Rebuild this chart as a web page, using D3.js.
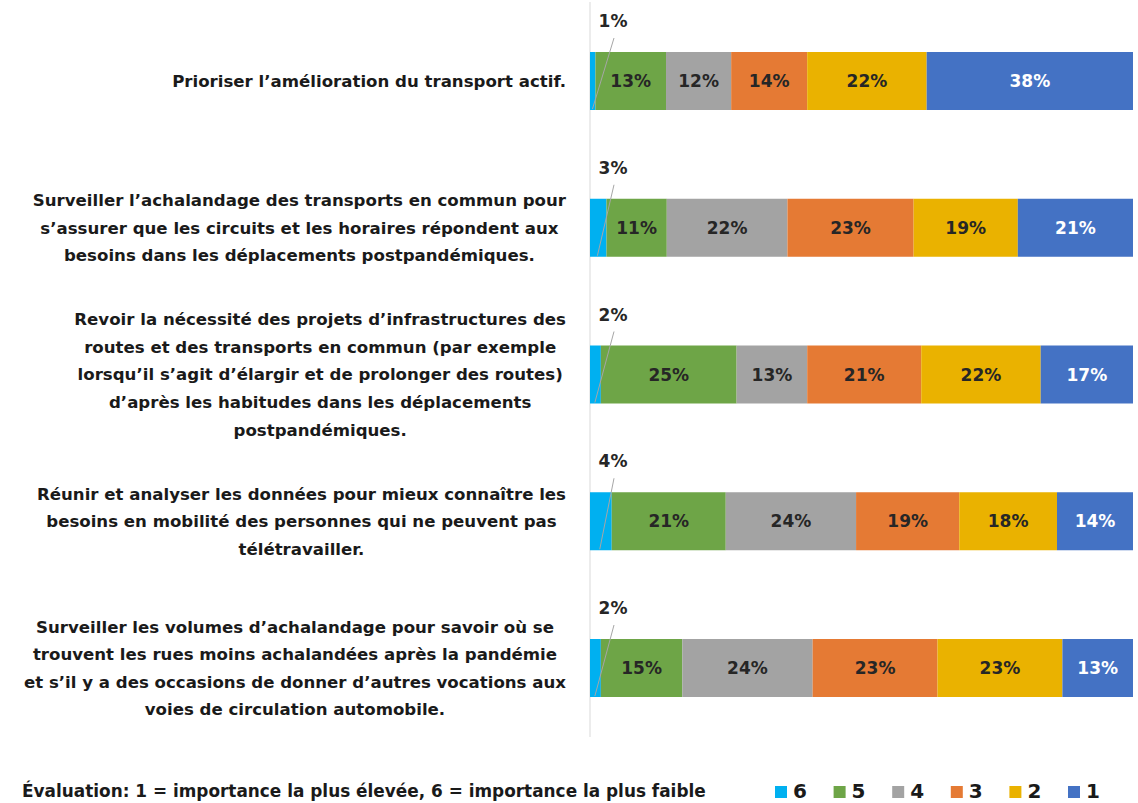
<!DOCTYPE html>
<html>
<head>
<meta charset="utf-8">
<script src="https://cdn.jsdelivr.net/npm/d3@7"></script>
<style>
  body { margin: 0; background: #fff; }
  svg text { font-family: "DejaVu Sans", sans-serif; font-weight: bold; }
</style>
</head>
<body>
<svg id="chart" width="1138" height="803"></svg>
<script>
// categories (each entry is a wrapped label, one string per line)
var categories = [
    ["Prioriser l\u2019amélioration du transport actif."],
    ["Surveiller l\u2019achalandage des transports en commun pour",
     "s\u2019assurer que les circuits et les horaires répondent aux",
     "besoins dans les déplacements postpandémiques."],
    ["Revoir la nécessité des projets d\u2019infrastructures des",
     "routes et des transports en commun (par exemple",
     "lorsqu\u2019il s\u2019agit d\u2019élargir et de prolonger des routes)",
     "d\u2019après les habitudes dans les déplacements",
     "postpandémiques."],
    ["Réunir et analyser les données pour mieux connaître les",
     "besoins en mobilité des personnes qui ne peuvent pas",
     "télétravailler."],
    ["Surveiller les volumes d\u2019achalandage pour savoir où se",
     "trouvent les rues moins achalandées après la pandémie",
     "et s\u2019il y a des occasions de donner d\u2019autres vocations aux",
     "voies de circulation automobile."]
];

// series: ranks 6 .. 1, in stacking order (left to right)
var ranks = ["6", "5", "4", "3", "2", "1"];
var rank6 = [1, 3, 2, 4, 2];
var rank5 = [13, 11, 25, 21, 15];
var rank4 = [12, 22, 13, 24, 24];
var rank3 = [14, 23, 21, 19, 23];
var rank2 = [22, 19, 22, 18, 23];
var rank1 = [38, 21, 17, 14, 13];

var colors = ["#00b0f0", "#6ea547", "#a3a3a3", "#e57a34", "#eab200", "#4472c4"];
var footnote = "Évaluation: 1 = importance la plus élevée, 6 = importance la plus faible";

var series = [rank6, rank5, rank4, rank3, rank2, rank1];
var rows = categories.map(function (c, i) {
    var r = { idx: i };
    ranks.forEach(function (k, j) { r[k] = series[j][i]; });
    return r;
});

var svg = d3.select("#chart");

var x = d3.scaleLinear().domain([0, 1]).range([590, 1133]);
var y = d3.scalePoint().domain(d3.range(categories.length)).range([81, 668]);
var barH = 58;

var stacked = d3.stack().keys(ranks).offset(d3.stackOffsetExpand)(rows);

// vertical axis line
svg.append("line")
    .attr("x1", x(0)).attr("x2", x(0))
    .attr("y1", 2).attr("y2", 737)
    .attr("stroke", "#d9d9d9").attr("stroke-width", 1);

var layer = svg.selectAll("g.layer")
    .data(stacked)
    .enter().append("g")
    .attr("class", "layer")
    .attr("fill", function (d, i) { return colors[i]; });

layer.selectAll("rect")
    .data(function (d) { return d; })
    .enter().append("rect")
    .attr("x", function (d) { return x(d[0]); })
    .attr("y", function (d) { return y(d.data.idx) - barH / 2; })
    .attr("width", function (d) { return x(d[1]) - x(d[0]); })
    .attr("height", barH);

// labels inside segments (all but rank 6)
stacked.forEach(function (s, j) {
    if (j === 0) return;
    svg.append("g").selectAll("text")
        .data(s)
        .enter().append("text")
        .attr("x", function (d) { return (x(d[0]) + x(d[1])) / 2; })
        .attr("y", function (d) { return y(d.data.idx); })
        .attr("dy", "0.36em")
        .attr("text-anchor", "middle")
        .attr("font-size", 17)
        .attr("fill", j === 5 ? "#fff" : "#262626")
        .text(function (d) { return d.data[s.key] + "%"; });
});

// rank 6 labels above the bar with leader line
var s6 = stacked[0];
svg.append("g").selectAll("line")
    .data(s6)
    .enter().append("line")
    .attr("x1", x(0) + 24)
    .attr("y1", function (d) { return y(d.data.idx) - 43; })
    .attr("x2", function (d) { return x(d[0]) + (x(d[1]) - x(d[0])) * 0.45; })
    .attr("y2", function (d) { return y(d.data.idx) + barH / 2 - 1; })
    .attr("stroke", "#a6a6a6").attr("stroke-width", 1);

svg.append("g").selectAll("text")
    .data(s6)
    .enter().append("text")
    .attr("x", x(0) + 23)
    .attr("y", function (d) { return y(d.data.idx) - 60; })
    .attr("dy", "0.36em")
    .attr("text-anchor", "middle")
    .attr("font-size", 17)
    .attr("fill", "#262626")
    .text(function (d) { return d.data["6"] + "%"; });

// category labels: block right-aligned, lines centered inside block
var lineH = 27.6;
var labelRight = 566;
categories.forEach(function (lines, i) {
    var g = svg.append("g");
    var t = g.selectAll("text")
        .data(lines)
        .enter().append("text")
        .attr("font-size", 16.6)
        .attr("fill", "#1a1a1a")
        .attr("text-anchor", "middle")
        .attr("dy", "0.36em")
        .attr("y", function (d, k) { return y(i) + (k - (lines.length - 1) / 2) * lineH; })
        .text(function (d) { return d; });
    var maxW = d3.max(t.nodes(), function (n) { return n.getComputedTextLength(); });
    t.attr("x", labelRight - maxW / 2);
});

// footnote
svg.append("text")
    .attr("x", 22).attr("y", 797)
    .attr("font-size", 16.9)
    .attr("fill", "#1a1a1a")
    .text(footnote);

// legend
var legend = svg.append("g").selectAll("g")
    .data(ranks)
    .enter().append("g")
    .attr("transform", function (d, i) { return "translate(" + (775 + i * 58.6) + ",0)"; });

legend.append("rect")
    .attr("x", 0).attr("y", 786)
    .attr("width", 12).attr("height", 12)
    .attr("fill", function (d, i) { return colors[i]; });

legend.append("text")
    .attr("x", 18).attr("y", 798)
    .attr("font-size", 20)
    .attr("fill", "#1a1a1a")
    .text(function (d) { return d; });
</script>
</body>
</html>
